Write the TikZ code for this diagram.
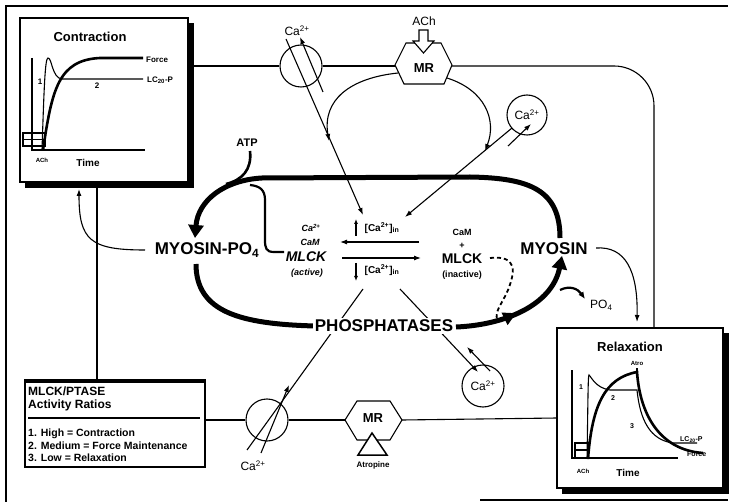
\documentclass[tikz,border=0pt]{standalone}
\usepackage{fontspec}
\setmainfont{Liberation Sans}
\usetikzlibrary{arrows.meta,calc,decorations.markings}
\begin{document}
\begin{tikzpicture}[x=1pt,y=-1pt,
 thn/.style={line width=1.1pt},
 arr/.style={-{Latex[length=7pt,width=5pt]}},
 loopln/.style={line width=5pt},
 bigarr/.style={-{Triangle[length=13pt,width=15pt]}},
 fnt/.style={inner sep=0pt, font=\fontsize{#1}{#1}\selectfont},
 fntb/.style={inner sep=0pt, font=\fontsize{#1}{#1}\selectfont\bfseries},
 fntbi/.style={inner sep=0pt, font=\fontsize{#1}{#1}\selectfont\bfseries\itshape},
 cabox/.style={circle, draw, line width=1.1pt, minimum size=#1, inner sep=0pt},
 shadowbox/.style={fill=black},
]
\useasboundingbox (0,0) rectangle (730,502);

% frame
\draw[thn] (6,502) -- (6,6) -- (728,6);
\draw[thn] (480,500) -- (728,500);

% ---------- Contraction box ----------
\fill[shadowbox] (25,23) rectangle (194,188);
\draw[thn, fill=white] (20,18) rectangle (188,182);
\node[fntb=13] (ctitle) at (90,37) {Contraction};
\draw[thn] (32,58) -- (32,150) -- (145,150);
\draw[thn] (23,133) rectangle (45,146);
\draw[thn] (23,139.5) -- (45,139.5);
\draw[line width=2.6pt] (43,150) .. controls (52,90) and (58,60) .. (100,58) -- (143,58);
\draw[thn] (42,150) .. controls (44,90) and (45,58) .. (48,58) .. controls (52,58) and (52,78) .. (62,79) -- (143,79);
\node[fntb=8, anchor=west] (cforce) at (146,60) {Force};
\node[fntb=8, anchor=west] (clc) at (147,80) {LC\textsubscript{20}-P};
\node[fntb=8] (c1) at (40,82) {1};
\node[fntb=8] (c2) at (97,86) {2};
\node[fntb=6] (cach) at (42,160) {ACh};
\node[fntb=10] (ctime) at (88,163) {Time};

% ---------- top membrane ----------
\node[cabox=42pt] (catop) at (301,66) {};
\draw[thn] (194,66) -- (catop.west);
\draw[thn] (catop.east) -- (395,66);
\draw[thn, rounded corners=40pt] (452,66) -- (654,66) -- (654,328);
\draw[thn, fill=white] (395,65) -- (406,43) -- (441,43) -- (452,65) -- (444,84) -- (404,84) -- cycle;
\node[fntb=13] (mrtop) at (424,68) {MR};
\draw[thn, fill=white] (419,30) -- (428,30) -- (428,41) -- (434,41) -- (423.5,53) -- (413,41) -- (419,41) -- cycle;
\node[fnt=12] (achtop) at (424,21) {ACh};
\node[fnt=12] (catoplbl) at (297,31) {Ca\textsuperscript{2+}};

% Ca channel top
\draw[thn, arr] (323,92) -- (300,37);
\draw[thn, arr] (286,39) -- (363,215);
% MR loops
\draw[thn, arr] (398,73) .. controls (350,78) and (322,100) .. (329,141);
\draw[thn, arr] (447,78) .. controls (485,90) and (497,120) .. (485,151);

% right Ca circle
\node[cabox=40pt, fnt=12] (caright) at (527,115) {Ca\textsuperscript{2+}};
\draw[thn, arr] (512,128) -- (405,217);
\draw[thn, arr] (508,146) -- (531,124);

% ---------- thick loop ----------
\draw[loopln, bigarr] (560,238) .. controls (560,190) and (530,178) .. (470,177) -- (262,178) .. controls (225,180) and (198,200) .. (195,238);
\draw[loopln] (196,264) .. controls (196,312) and (240,324) .. (315,326);
\draw[loopln, bigarr, postaction={decorate}, decoration={markings, mark=at position 0.45 with {\arrow{Triangle[length=13pt,width=13pt]}}}] (456,327) .. controls (505,325) and (552,305) .. (562,256);
\draw[line width=2.2pt, -{Latex[length=7pt,width=6pt]}] (560,290) .. controls (570,285) and (578,289) .. (585,299);
\node[fnt=12, anchor=west] (po4) at (590,305) {PO\textsubscript{4}};

% ATP
\node[fntb=11] (atp) at (247,143) {ATP};
\draw[line width=2.6pt] (250,151) .. controls (252,170) and (242,180) .. (226,184);
% MLCK active -> loop
\draw[line width=2.2pt] (284,252) -- (274,252) .. controls (266,252) and (265,248) .. (265,240) -- (265,200) .. controls (265,190) and (260,186) .. (250,185);

% MYOSIN-PO4 -> contraction
\draw[thn, arr] (145,250) .. controls (90,250) and (79,240) .. (79,189);
\draw[thn] (97,188) -- (97,380);

% MYOSIN -> Relaxation
\draw[thn, arr] (596,248) .. controls (625,246) and (638,270) .. (637,322);

% Phosphatase lines
\draw[thn] (363,289) -- (247,450);
\draw[thn, arr] (400,289) -- (478,372);
\draw[thn, arr] (261,453) -- (289,385);
\node[cabox=42pt, fnt=12] (cabr) at (483,386) {Ca\textsuperscript{2+}};
\draw[thn, arr] (490,371) -- (467,347);

% dashed
\draw[line width=1.8pt, dash pattern=on 4pt off 3pt] (490,258) .. controls (518,255) and (515,272) .. (508,290) .. controls (501,306) and (495,310) .. (497,320);

% main labels
\node[fntb=17] (mpo4) at (207,250) {MYOSIN-PO\textsubscript{4}};
\node[fntb=17] (myosin) at (554,249) {MYOSIN};
\node[fntb=17, fill=white, inner sep=2pt] (phos) at (384,326) {PHOSPHATASES};

% MLCK active
\node[fntbi=9] (caact) at (311,228) {Ca\textsuperscript{2+}};
\node[fntbi=9] (camact) at (310,242) {CaM};
\node[fntbi=14] (mlckact) at (306,257) {MLCK};
\node[fntbi=9] (actv) at (307,273) {(active)};
% Ca in
\node[fntb=10] (caup) at (382,228) {[Ca\textsuperscript{2+}]\textsubscript{in}};
\draw[line width=1.2pt, -{Latex[length=5pt,width=4pt]}] (356,236) -- (356,219);
\node[fntb=10] (cadn) at (382,270) {[Ca\textsuperscript{2+}]\textsubscript{in}};
\draw[line width=1.2pt, -{Latex[length=5pt,width=4pt]}] (356,263) -- (356,281);
\draw[thn, arr] (419,242) -- (340,242);
\draw[thn, arr] (342,258) -- (421,258);
% MLCK inactive
\node[fntb=9] (caminact) at (462,232) {CaM};
\node[fntb=9] (plus) at (462,246) {+};
\node[fntb=14] (mlckin) at (462,259) {MLCK};
\node[fntb=9] (inact) at (462,275) {(inactive)};

% ---------- MLCK/PTASE box ----------
\draw[thn, fill=white] (25,380) rectangle (205,467);
\draw[line width=3pt] (25,381) -- (205,381);
\node[fntb=12, anchor=west] (bt1) at (28,391) {MLCK/PTASE};
\node[fntb=12, anchor=west] (bt2) at (28,405) {Activity Ratios};
\draw[line width=1.5pt] (28,418) -- (200,418);
\node[fntb=10.5, anchor=west] (bi1) at (28,434) {1. High = Contraction};
\node[fntb=10.5, anchor=west] (bi2) at (28,446) {2. Medium = Force Maintenance};
\node[fntb=10.5, anchor=west] (bi3) at (28,458) {3. Low = Relaxation};

% ---------- bottom membrane ----------
\node[cabox=42pt] (cabot) at (267,420) {};
\draw[thn] (205,420) -- (cabot.west);
\draw[thn] (cabot.east) -- (345,420);
\draw[thn] (402,420) -- (557,418);
\draw[thn, fill=white] (345,420) -- (357,401) -- (390,401) -- (402,420) -- (390,440) -- (357,440) -- cycle;
\node[fntb=13] (mrbot) at (373,418) {MR};
\draw[line width=1.5pt, fill=white] (372,433) -- (387,455) -- (358,455) -- cycle;
\node[fntb=8] (atropine) at (373,465) {Atropine};
\node[fnt=12] (cabotlbl) at (253,466) {Ca\textsuperscript{2+}};

% ---------- Relaxation box ----------
\fill[shadowbox] (562,333) rectangle (729,494);
\draw[thn, fill=white] (557,328) rectangle (723,488);
\node[fntb=13] (rtitle) at (630,347) {Relaxation};
\draw[thn] (572,370) -- (572,458) -- (678,458);
\draw[thn] (575,443) rectangle (588,458);
\draw[thn] (575,450) -- (588,450);
\draw[line width=2.6pt] (588,459) .. controls (592,405) and (605,378) .. (637,372) .. controls (640,415) and (660,450) .. (703,453);
\draw[thn] (587,459) .. controls (588,400) and (588,375) .. (589,375) .. controls (592,378) and (596,388) .. (610,390) -- (637,390) .. controls (640,420) and (650,440) .. (673,443) -- (697,443);
\draw[thn] (637,372) -- (637,368);
\node[fntb=6] (ratro) at (637,363) {Atro};
\node[fntb=7, anchor=west] (rlc) at (680,440) {LC\textsubscript{20}-P};
\node[fntb=7, anchor=west] (rforce) at (687,454) {Force};
\node[fntb=7] (r1) at (581,387) {1};
\node[fntb=7] (r2) at (613,398) {2};
\node[fntb=7] (r3) at (632,426) {3};
\node[fntb=6] (rach) at (583,471) {ACh};
\node[fntb=10] (rtime) at (628,473) {Time};
\end{tikzpicture}
\end{document}
